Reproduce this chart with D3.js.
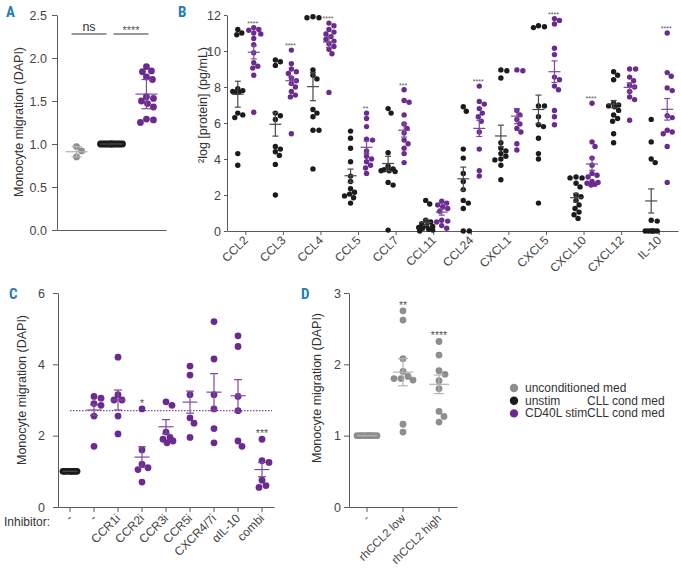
<!DOCTYPE html>
<html><head><meta charset="utf-8">
<script src="https://cdn.jsdelivr.net/npm/d3@7"></script>
<style>
body{margin:0;background:#fff}
text{font-family:"Liberation Sans",Arial,Helvetica,sans-serif}
</style>
</head><body>
<svg id="c" width="681" height="576"></svg>
<script>
// ---------------- DATA ----------------
// Panel A
const aGroups = ["unconditioned med", "unstim CLL cond med", "CD40L stim CLL cond med"];
const aGrey = [0.97, 0.92, 0.85];
const aBlack = [1, 1, 1, 1, 1, 1, 1, 1, 1, 1, 1, 1, 1];
const aPurple = [1.90, 1.85, 1.84, 1.78, 1.75, 1.55, 1.53, 1.50, 1.47, 1.43, 1.29, 1.28, 1.25];
const aMean = [0.91, 1.0, 1.58];
const aErr = [0.06, 0, 0.17];
const aSigLabels = ["ns", "****"];
const aYTicks = [0, 0.5, 1.0, 1.5, 2.0, 2.5];

// Panel B
const bCategories = ["CCL2","CCL3","CCL4","CCL5","CCL7","CCL11","CCL24","CXCL1","CXCL5","CXCL10","CXCL12","IL-10"];
const bBlack = [
  [11.2, 11.0, 10.9, 7.9, 7.8, 7.75, 7.7, 7.7, 6.55, 6.45, 6.3, 4.3, 3.65],
  [9.5, 9.4, 9.2, 6.55, 6.4, 6.2, 4.7, 4.55, 4.4, 4.2, 3.7, 2.0],
  [11.9, 11.85, 11.85, 8.95, 8.65, 8.45, 6.75, 6.55, 6.35, 5.6, 5.6, 3.45],
  [5.55, 5.15, 4.6, 3.85, 3.05, 2.75, 2.35, 2.15, 2.05, 1.95, 1.85, 1.55],
  [6.8, 6.55, 4.35, 3.6, 3.45, 3.4, 3.35, 3.35, 3.3, 2.7, 2.55, 0.05],
  [1.7, 1.5, 0.6, 0.5, 0.4, 0.3, 0.25, 0.2, 0.15, 0.1, 0.05, 0.0],
  [6.9, 6.65, 4.55, 4.05, 3.2, 2.75, 2.3, 1.7, 1.55, 1.25, 0, 0],
  [8.95, 8.9, 8.5, 4.9, 4.6, 4.45, 4.3, 4.15, 4.0, 3.95, 3.65, 2.85],
  [11.4, 11.35, 11.3, 6.95, 6.95, 6.35, 5.9, 5.8, 5.15, 4.3, 4.0, 1.55],
  [3.0, 2.95, 2.95, 2.65, 2.45, 2.0, 1.9, 1.7, 1.45, 1.25, 1.05, 0.9, 0.7],
  [8.85, 8.65, 8.4, 7.1, 7.0, 6.95, 6.9, 6.7, 6.45, 6.25, 6.1, 5.4, 4.9],
  [6.2, 4.95, 4.0, 3.8, 0.6, 0.55, 0, 0, 0, 0, 0, 0]
];
const bPurple = [
  [11.3, 11.2, 11.15, 11.0, 10.95, 10.7, 10.35, 9.9, 9.35, 9.15, 9.05, 8.65, 6.6],
  [10.05, 9.3, 9.0, 8.85, 8.75, 8.5, 8.35, 8.2, 8.0, 7.75, 7.55, 7.45, 5.4],
  [11.55, 11.4, 11.2, 11.05, 10.95, 10.8, 10.65, 10.55, 10.4, 10.25, 10.1, 9.85, 7.7],
  [6.55, 6.25, 5.8, 5.1, 5.05, 4.45, 4.15, 4.0, 3.85, 3.65, 3.5, 3.2],
  [7.85, 7.25, 7.15, 6.45, 5.95, 5.7, 5.45, 5.05, 4.85, 4.6, 4.3, 3.8],
  [1.65, 1.55, 1.45, 1.35, 1.25, 1.1, 0.6, 0.55, 0.5, 0.3, 0.15],
  [8.05, 7.2, 7.05, 6.8, 6.55, 6.35, 6.1, 5.5, 4.55, 3.35, 3.05],
  [8.95, 8.9, 6.7, 6.45, 6.2, 5.95, 5.7, 5.5, 4.85, 4.5],
  [11.8, 11.7, 11.5, 10.15, 9.8, 8.55, 8.4, 8.05, 7.85, 6.7, 6.35, 5.9],
  [7.1, 4.95, 4.7, 4.05, 3.65, 3.2, 3.1, 3.0, 2.75, 2.7, 2.65, 2.6, 2.55],
  [9.0, 9.0, 8.55, 8.35, 8.1, 8.0, 7.75, 7.45, 7.3, 6.15],
  [11.0, 8.8, 8.6, 7.95, 7.8, 6.4, 6.3, 5.6, 5.5, 5.4, 4.7, 2.7]
];
const bBlackMean = [7.6, 5.93, 8.02, 3.07, 3.75, 0.48, 2.9, 5.28, 6.75, 1.85, 7.05, 1.67];
const bBlackErr  = [0.72, 0.66, 0.78, 0.37, 0.4, 0.17, 0.65, 0.6, 0.8, 0.24, 0.2, 0.67];
const bPurpleMean = [9.93, 8.35, 10.5, 4.65, 5.6, 1.05, 5.7, 6.38, 8.85, 3.72, 7.98, 6.76];
const bPurpleErr  = [0.37, 0.2, 0.3, 0.35, 0.38, 0.17, 0.45, 0.42, 0.6, 0.35, 0.25, 0.6];
const bStars = ["****","****","****","**","***","","****","","****","****","","****"];
const bYTicks = [0, 2, 4, 6, 8, 10, 12];

// Panel C
const cCategories = ["-", "-", "CCR1i", "CCR2i", "CCR3i", "CCR5i", "CXCR4/7i", "\u03b1IL-10", "combi"];
const cGroupType = ["unstim", "cd40l", "cd40l", "cd40l", "cd40l", "cd40l", "cd40l", "cd40l", "cd40l"];
const cValues = [
  [1, 1, 1, 1, 1, 1, 1, 1],
  [3.1, 3.05, 2.9, 2.85, 2.55, 1.7],
  [4.2, 3.15, 3.0, 3.0, 2.55, 2.05],
  [2.75, 1.6, 1.2, 1.1, 1.05, 0.7],
  [2.95, 2.85, 2.1, 1.95, 1.9, 1.85, 1.8],
  [3.95, 3.7, 3.15, 2.5, 2.35, 1.95],
  [5.2, 4.15, 3.15, 2.75, 2.2, 1.8],
  [4.8, 4.5, 3.1, 2.7, 1.85, 1.7],
  [1.9, 1.3, 1.25, 0.75, 0.6, 0.55]
];
const cMean = [1.0, 2.72, 3.0, 1.4, 2.25, 2.94, 3.22, 3.12, 1.05];
const cErr  = [0, 0.15, 0.28, 0.29, 0.2, 0.31, 0.52, 0.45, 0.2];
const cStars = ["", "", "", "*", "", "", "", "", "***"];
const cReference = 2.7;
const cYTicks = [0, 2, 4, 6];

// Panel D
const dCategories = ["-", "rhCCL2 low", "rhCCL2 high"];
const dValues = [
  [1, 1, 1, 1, 1, 1, 1, 1, 1, 1],
  [2.75, 2.62, 2.08, 1.9, 1.83, 1.8, 1.8, 1.78, 1.16, 1.05],
  [2.32, 2.13, 1.91, 1.86, 1.77, 1.66, 1.34, 1.27, 1.19]
];
const dMean = [1.0, 1.89, 1.72];
const dErr  = [0, 0.19, 0.13];
const dStars = ["", "**", "****"];
const dYTicks = [0, 1, 2, 3];

// Legend
const legendNames = ["unconditioned med", "unstim", "CD40L stim"];
const legendSuffix = ["", "CLL cond med", "CLL cond med"];

// ---------------- STYLE ----------------
const COL = { grey: "#8e8e8e", black: "#1b1b1b", purple: "#6b2a8f" };
const ERRCOL = { grey: "#b3b3b3", black: "#4a4a4a", purple: "#7c4a9e" };
const AXIS = "#5a5a5a";
const TICKTXT = "#444";
const LETTER = "#1f7db5";

const svg = d3.select("#c");

function swarm(vals, y, r, hw) {
  const idx = vals.map((v, i) => i).sort((a, b) => vals[b] - vals[a]);
  const placed = [], off = new Array(vals.length);
  for (const i of idx) {
    const py = y(vals[i]);
    let best = 0, bestD = -1;
    for (let k = 0; k <= 2 * hw; k++) {
      const o = (k % 2 ? 1 : -1) * Math.ceil(k / 2);
      let md = Infinity;
      for (const p of placed) md = Math.min(md, Math.hypot(p.x - o, p.y - py));
      if (md >= 2 * r * 0.95) { best = o; bestD = Infinity; break; }
      if (md > bestD) { bestD = md; best = o; }
    }
    placed.push({ x: best, y: py });
    off[i] = best;
  }
  return off;
}

function dots(g, vals, cx, y, r, hw, color) {
  const off = swarm(vals, y, r, hw);
  g.append("g").selectAll("circle").data(vals).join("circle")
    .attr("cx", (d, i) => cx + off[i]).attr("cy", d => y(d)).attr("r", r)
    .attr("fill", color);
}

function errbar(g, cx, y, mean, err, meanW, capW, color) {
  const e = g.append("g").attr("stroke", color).attr("stroke-width", 1.2).attr("fill", "none");
  e.append("line").attr("x1", cx - meanW / 2).attr("x2", cx + meanW / 2).attr("y1", y(mean)).attr("y2", y(mean));
  if (err > 0) {
    e.append("line").attr("x1", cx).attr("x2", cx).attr("y1", y(mean + err)).attr("y2", y(mean - err));
    e.append("line").attr("x1", cx - capW / 2).attr("x2", cx + capW / 2).attr("y1", y(mean + err)).attr("y2", y(mean + err));
    e.append("line").attr("x1", cx - capW / 2).attr("x2", cx + capW / 2).attr("y1", y(mean - err)).attr("y2", y(mean - err));
  }
}

function styleAxis(g, fs) {
  g.select(".domain").attr("stroke", AXIS);
  g.selectAll(".tick line").attr("stroke", AXIS);
  g.selectAll(".tick text").attr("fill", TICKTXT).style("font-size", fs + "px")
    .style("font-family", '"Liberation Sans",Arial,sans-serif');
}

function yLabel(x, yc, txt, fs) {
  return svg.append("text").attr("transform", `translate(${x},${yc}) rotate(-90)`)
    .attr("text-anchor", "middle").attr("dominant-baseline", "central")
    .attr("fill", "#333").style("font-size", fs + "px").text(txt);
}

function stars(x, yTop, label, fs) {
  if (!label) return;
  svg.append("text").attr("x", x).attr("y", yTop + 0.57 * fs).attr("text-anchor", "middle")
    .attr("fill", "#555").style("font-size", fs + "px").text(label);
}

function letter(x, y, t) {
  svg.append("text").attr("x", x).attr("y", y).attr("fill", LETTER)
    .style("font-family", '"Liberation Sans Narrow","Roboto Condensed","Liberation Sans",Arial,sans-serif')
    .style("font-weight", "bold").style("font-size", "15px").text(t);
}

function rotLabels(gx, dx, dy) {
  gx.selectAll(".tick text").attr("text-anchor", "end").attr("dy", null).attr("y", null)
    .attr("transform", `translate(${dx},${dy}) rotate(-45)`);
}

// ---------------- PANEL A ----------------
{
  const x = d3.scalePoint().domain(aGroups).range([57, 166]).padding(0.56);
  const y = d3.scaleLinear().domain([0, 2.5]).range([230, 15]);
  const gy = svg.append("g").attr("transform", "translate(57,0)")
    .call(d3.axisLeft(y).tickValues(aYTicks).tickFormat(d3.format(".1f")).tickSize(5).tickPadding(5).tickSizeOuter(0));
  styleAxis(gy, 12.5);
  const gx = svg.append("g").attr("transform", "translate(0,230)")
    .call(d3.axisBottom(x).tickValues([]).tickSizeOuter(0));
  styleAxis(gx, 12);
  yLabel(19, 122, "Monocyte migration (DAPI)", 12.5);
  const g = svg.append("g");
  const sets = [[aGrey, "grey"], [aBlack, "black"], [aPurple, "purple"]];
  sets.forEach(([vals, c], i) => dots(g, vals, x(aGroups[i]), y, 3.4, 11, COL[c]));
  sets.forEach(([vals, c], i) => errbar(g, x(aGroups[i]), y, aMean[i], aErr[i], 22, 10, ERRCOL[c]));
  const sy = 34;
  const pairs = [[0, 1], [1, 2]];
  pairs.forEach(([a, b], k) => {
    const x1 = x(aGroups[a]) + (k === 0 ? -5 : 2), x2 = x(aGroups[b]) + (k === 0 ? -5 : 2);
    svg.append("line").attr("x1", x1).attr("x2", x2).attr("y1", sy).attr("y2", sy).attr("stroke", "#333").attr("stroke-width", 1);
    if (k === 0) {
      svg.append("text").attr("x", (x1 + x2) / 2).attr("y", sy - 3).attr("text-anchor", "middle")
        .attr("fill", "#333").style("font-size", "12.5px").text(aSigLabels[k]);
    } else {
      stars((x1 + x2) / 2, 28, aSigLabels[k], 11);
    }
  });
  letter(6, 17, "A");
}

// ---------------- PANEL B ----------------
{
  const x = d3.scaleBand().domain(bCategories).range([227, 678]);
  const y = d3.scaleLinear().domain([0, 12]).range([231, 15]);
  const cx = c => x(c) + x.bandwidth() / 2;
  const gy = svg.append("g").attr("transform", "translate(227,0)")
    .call(d3.axisLeft(y).tickValues(bYTicks).tickFormat(d3.format("d")).tickSize(3).tickPadding(3).tickSizeOuter(0));
  styleAxis(gy, 12.5);
  const gx = svg.append("g").attr("transform", "translate(0,231)")
    .call(d3.axisBottom(x).tickSize(4).tickSizeOuter(0));
  styleAxis(gx, 12);
  rotLabels(gx, 3, 10);
  yLabel(203, 105, "\u00b2log [protein] (pg/mL)", 12.5);
  const g = svg.append("g");
  bCategories.forEach((c, i) => {
    dots(g, bBlack[i], cx(c) - 8, y, 2.7, 7, COL.black);
    dots(g, bPurple[i], cx(c) + 8, y, 2.7, 7, COL.purple);
  });
  bCategories.forEach((c, i) => {
    errbar(g, cx(c) - 8, y, bBlackMean[i], bBlackErr[i], 12, 6, ERRCOL.black);
    errbar(g, cx(c) + 8, y, bPurpleMean[i], bPurpleErr[i], 12, 6, ERRCOL.purple);
    stars(cx(c) + 7, y(d3.max(bPurple[i])) - 6, bStars[i], 7);
  });
  letter(178, 17, "B");
}

// ---------------- PANEL C ----------------
{
  const x = d3.scaleBand().domain(d3.range(cCategories.length)).range([58, 274]);
  const y = d3.scaleLinear().domain([0, 6]).range([507, 293]);
  const cx = i => x(i) + x.bandwidth() / 2;
  const gy = svg.append("g").attr("transform", "translate(58,0)")
    .call(d3.axisLeft(y).tickValues(cYTicks).tickFormat(d3.format("d")).tickSize(5).tickPadding(8).tickSizeOuter(0));
  styleAxis(gy, 12.5);
  const gx = svg.append("g").attr("transform", "translate(0,507)")
    .call(d3.axisBottom(x).tickSize(5).tickSizeOuter(0).tickFormat(i => cCategories[i]));
  styleAxis(gx, 12);
  rotLabels(gx, 3, 12);
  yLabel(22, 390, "Monocyte migration (DAPI)", 12.5);
  svg.append("text").attr("x", 4).attr("y", 526).attr("fill", "#333").style("font-size", "12px").text("Inhibitor:");
  svg.append("line").attr("x1", cx(0)).attr("x2", 272).attr("y1", y(cReference)).attr("y2", y(cReference))
    .attr("stroke", COL.purple).attr("stroke-width", 1.3).attr("stroke-dasharray", "1.5,1.5").attr("opacity", 0.85);
  const g = svg.append("g");
  cValues.forEach((vals, i) => {
    const c = cGroupType[i] === "unstim" ? "black" : "purple";
    dots(g, vals, cx(i), y, 3.4, 7, COL[c]);
  });
  cValues.forEach((vals, i) => {
    const c = cGroupType[i] === "unstim" ? "black" : "purple";
    errbar(g, cx(i), y, cMean[i], cErr[i], 15, 8, ERRCOL[c]);
    stars(cx(i), y(d3.max(vals)) - 8, cStars[i], 10.5);
  });
  letter(9, 299, "C");
}

// ---------------- PANEL D ----------------
{
  const x = d3.scaleBand().domain(dCategories).range([349, 457]);
  const y = d3.scaleLinear().domain([0, 3]).range([507, 293]);
  const cx = c => x(c) + x.bandwidth() / 2;
  const gy = svg.append("g").attr("transform", "translate(349,0)")
    .call(d3.axisLeft(y).tickValues(dYTicks).tickFormat(d3.format("d")).tickSize(5).tickPadding(3).tickSizeOuter(0));
  styleAxis(gy, 12.5);
  const gx = svg.append("g").attr("transform", "translate(0,507)")
    .call(d3.axisBottom(x).tickSize(5).tickSizeOuter(0));
  styleAxis(gx, 11.5);
  rotLabels(gx, 3, 12);
  yLabel(317, 388, "Monocyte migration (DAPI)", 12.5);
  const g = svg.append("g");
  dValues.forEach((vals, i) => dots(g, vals, cx(dCategories[i]), y, 3.4, 10, COL.grey));
  dValues.forEach((vals, i) => {
    errbar(g, cx(dCategories[i]), y, dMean[i], dErr[i], 20, 10, ERRCOL.grey);
    stars(cx(dCategories[i]), y(d3.max(vals)) - 8, dStars[i], 10.5);
  });
  letter(301, 299, "D");
}

// ---------------- LEGEND ----------------
{
  const cols = [COL.grey, COL.black, COL.purple];
  const ys = [388, 400.7, 413.4];
  legendNames.forEach((n, i) => {
    svg.append("circle").attr("cx", 514).attr("cy", ys[i]).attr("r", 4.2).attr("fill", cols[i]);
    svg.append("text").attr("x", 525).attr("y", ys[i]).attr("dominant-baseline", "central")
      .attr("fill", "#333").style("font-size", "12px").text(n);
    if (legendSuffix[i]) svg.append("text").attr("x", 587).attr("y", ys[i]).attr("dominant-baseline", "central")
      .attr("fill", "#333").style("font-size", "12px").text(legendSuffix[i]);
  });
}
</script>
</body></html>
